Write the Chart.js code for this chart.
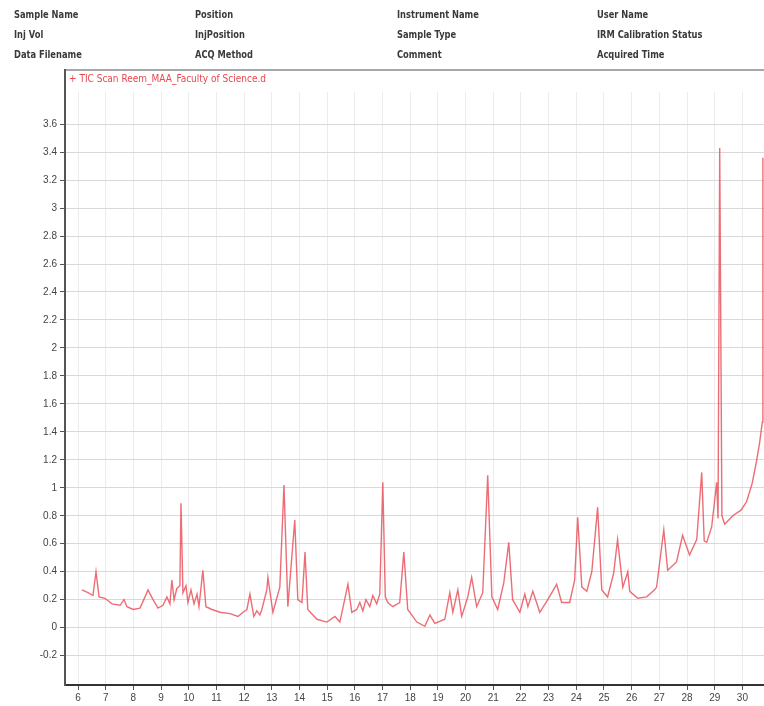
<!DOCTYPE html>
<html>
<head>
<meta charset="utf-8">
<script src="https://cdn.jsdelivr.net/npm/chart.js@4.4.1/dist/chart.umd.min.js"></script>
<style>
  html, body { margin: 0; padding: 0; background: #fff; }
  #wrap { position: relative; width: 764px; height: 706px; overflow: hidden; }
  #chart { position: absolute; left: 0; top: 0; }
  .hdr {
    position: absolute;
    font: bold 11px "DejaVu Sans Condensed", "Liberation Sans", sans-serif;
    color: #3a3a3a;
    white-space: nowrap;
    line-height: 12px;
    transform: scaleX(0.84);
    transform-origin: left center;
  }
</style>
</head>
<body>
<div id="wrap">
  <canvas id="chart" width="764" height="706"></canvas>
  <div id="header"></div>
</div>
<script>
// header fields, one row per line, four columns
const headerRows = [
  ["Sample Name", "Position", "Instrument Name", "User Name"],
  ["Inj Vol", "InjPosition", "Sample Type", "IRM Calibration Status"],
  ["Data Filename", "ACQ Method", "Comment", "Acquired Time"]
];
const headerCols = [14, 195, 397, 597];

const traceLabel = "+ TIC Scan Reem_MAA_Faculty of Science.d";

// retention time (min) and TIC signal (x10^7 counts)
const retentionTime = [
  6.14, 6.36, 6.54, 6.65, 6.76, 6.97, 7.23, 7.52, 7.66, 7.77,
  7.99, 8.24, 8.42, 8.53, 8.71, 8.89, 9.07, 9.21, 9.32, 9.39,
  9.47, 9.57, 9.68, 9.72, 9.79, 9.90, 9.97, 10.08, 10.19, 10.30,
  10.37, 10.51, 10.62, 10.84, 11.13, 11.49, 11.78, 11.96, 12.10, 12.21,
  12.35, 12.46, 12.57, 12.64, 12.82, 12.86, 13.04, 13.29, 13.44, 13.58,
  13.83, 13.94, 14.09, 14.20, 14.30, 14.63, 14.99, 15.28, 15.46, 15.75,
  15.89, 16.07, 16.18, 16.29, 16.40, 16.54, 16.65, 16.79, 16.90, 17.01,
  17.10, 17.19, 17.37, 17.62, 17.77, 17.91, 18.24, 18.53, 18.71, 18.89,
  19.25, 19.43, 19.54, 19.72, 19.86, 20.08, 20.22, 20.40, 20.62, 20.80,
  20.95, 21.16, 21.38, 21.56, 21.70, 21.96, 22.14, 22.25, 22.43, 22.68,
  22.97, 23.29, 23.47, 23.76, 23.94, 24.05, 24.20, 24.38, 24.56, 24.77,
  24.92, 25.13, 25.35, 25.49, 25.68, 25.86, 25.93, 26.22, 26.54, 26.83,
  26.90, 27.16, 27.30, 27.62, 27.84, 28.09, 28.35, 28.53, 28.62, 28.71,
  28.89, 29.07, 29.12, 29.18, 29.26, 29.36, 29.65, 29.95, 30.15, 30.35,
  30.50, 30.62, 30.72, 30.74
];
const ticSignal = [
  0.27, 0.25, 0.23, 0.40, 0.22, 0.21, 0.17, 0.16, 0.20, 0.15,
  0.13, 0.14, 0.22, 0.27, 0.20, 0.14, 0.16, 0.22, 0.17, 0.34,
  0.20, 0.28, 0.30, 0.89, 0.25, 0.30, 0.18, 0.27, 0.17, 0.24,
  0.15, 0.41, 0.15, 0.13, 0.11, 0.10, 0.08, 0.11, 0.13, 0.24,
  0.08, 0.12, 0.09, 0.13, 0.27, 0.36, 0.11, 0.29, 1.02, 0.15,
  0.77, 0.20, 0.18, 0.54, 0.13, 0.06, 0.04, 0.08, 0.04, 0.31,
  0.11, 0.13, 0.18, 0.12, 0.20, 0.15, 0.23, 0.17, 0.24, 1.04,
  0.22, 0.18, 0.15, 0.18, 0.54, 0.13, 0.04, 0.01, 0.09, 0.03,
  0.06, 0.25, 0.11, 0.27, 0.08, 0.22, 0.36, 0.15, 0.25, 1.09,
  0.22, 0.13, 0.32, 0.61, 0.20, 0.11, 0.24, 0.15, 0.26, 0.11,
  0.20, 0.31, 0.18, 0.18, 0.34, 0.79, 0.29, 0.26, 0.40, 0.86,
  0.27, 0.22, 0.39, 0.63, 0.29, 0.40, 0.26, 0.21, 0.22, 0.27,
  0.29, 0.70, 0.41, 0.47, 0.66, 0.52, 0.63, 1.11, 0.62, 0.61,
  0.72, 1.04, 0.78, 3.43, 0.80, 0.74, 0.80, 0.84, 0.90, 1.03,
  1.18, 1.32, 1.47, 3.36
];

const xTickValues = [6, 7, 8, 9, 10, 11, 12, 13, 14, 15, 16, 17, 18, 19, 20,
  21, 22, 23, 24, 25, 26, 27, 28, 29, 30];
const yTickValues = [-0.2, 0, 0.2, 0.4, 0.6, 0.8, 1, 1.2, 1.4, 1.6, 1.8, 2,
  2.2, 2.4, 2.6, 2.8, 3, 3.2, 3.4, 3.6];

const xRange = [5.53, 30.78];
const yRange = [-0.41, 3.83];

// header text as html
const header = document.getElementById("header");
headerRows.forEach((row, r) => {
  row.forEach((txt, c) => {
    const d = document.createElement("div");
    d.className = "hdr";
    d.textContent = txt;
    d.style.left = headerCols[c] + "px";
    d.style.top = (9 + r * 20) + "px";
    header.appendChild(d);
  });
});

// frame above the plot and the trace label inside it
const framePlugin = {
  id: "frame",
  afterDraw(chart) {
    const ctx = chart.ctx;
    const a = chart.chartArea;
    ctx.save();
    ctx.strokeStyle = "#8a8a8a";
    ctx.lineWidth = 1.5;
    ctx.beginPath();
    ctx.moveTo(a.left, 70);
    ctx.lineTo(chart.width, 70);
    ctx.stroke();
    ctx.strokeStyle = "#555";
    ctx.lineWidth = 2;
    ctx.beginPath();
    ctx.moveTo(a.left, 69);
    ctx.lineTo(a.left, a.top);
    ctx.stroke();
    ctx.fillStyle = "#e8484f";
    ctx.font = '10px "DejaVu Sans Condensed", "Liberation Sans", sans-serif';
    ctx.textBaseline = "middle";
    ctx.fillText(traceLabel, a.left + 4, 79);
    ctx.restore();
  }
};

new Chart(document.getElementById("chart"), {
  type: "line",
  data: {
    datasets: [{
      label: traceLabel,
      data: retentionTime.map((t, i) => ({ x: t, y: ticSignal[i] })),
      borderColor: "rgba(232, 72, 84, 0.8)",
      borderWidth: 1.4,
      pointRadius: 0,
      tension: 0,
      fill: false
    }]
  },
  options: {
    responsive: false,
    animation: false,
    layout: { padding: { top: 92, right: 0, left: 0, bottom: 0 } },
    plugins: { legend: { display: false }, tooltip: { enabled: false } },
    scales: {
      x: {
        type: "linear",
        min: xRange[0],
        max: xRange[1],
        afterBuildTicks: s => { s.ticks = xTickValues.map(v => ({ value: v })); },
        afterFit: s => { s.height = 21; },
        grid: { color: "#ececec", tickColor: "#555", tickLength: 5 },
        border: { color: "#333", width: 2 },
        ticks: {
          color: "#444",
          padding: 2,
          maxRotation: 0,
          autoSkip: false,
          font: { family: "Liberation Sans", size: 10 }
        }
      },
      y: {
        type: "linear",
        min: yRange[0],
        max: yRange[1],
        afterBuildTicks: s => { s.ticks = yTickValues.map(v => ({ value: v })); },
        afterFit: s => { s.width = 65; },
        grid: { color: "#d9d9d9", tickColor: "#555", tickLength: 5 },
        border: { color: "#555", width: 2 },
        ticks: {
          color: "#444",
          padding: 3,
          autoSkip: false,
          font: { family: "Liberation Sans", size: 10 },
          callback: v => String(Math.round(v * 10) / 10)
        }
      }
    }
  },
  plugins: [framePlugin]
});
</script>
</body>
</html>
